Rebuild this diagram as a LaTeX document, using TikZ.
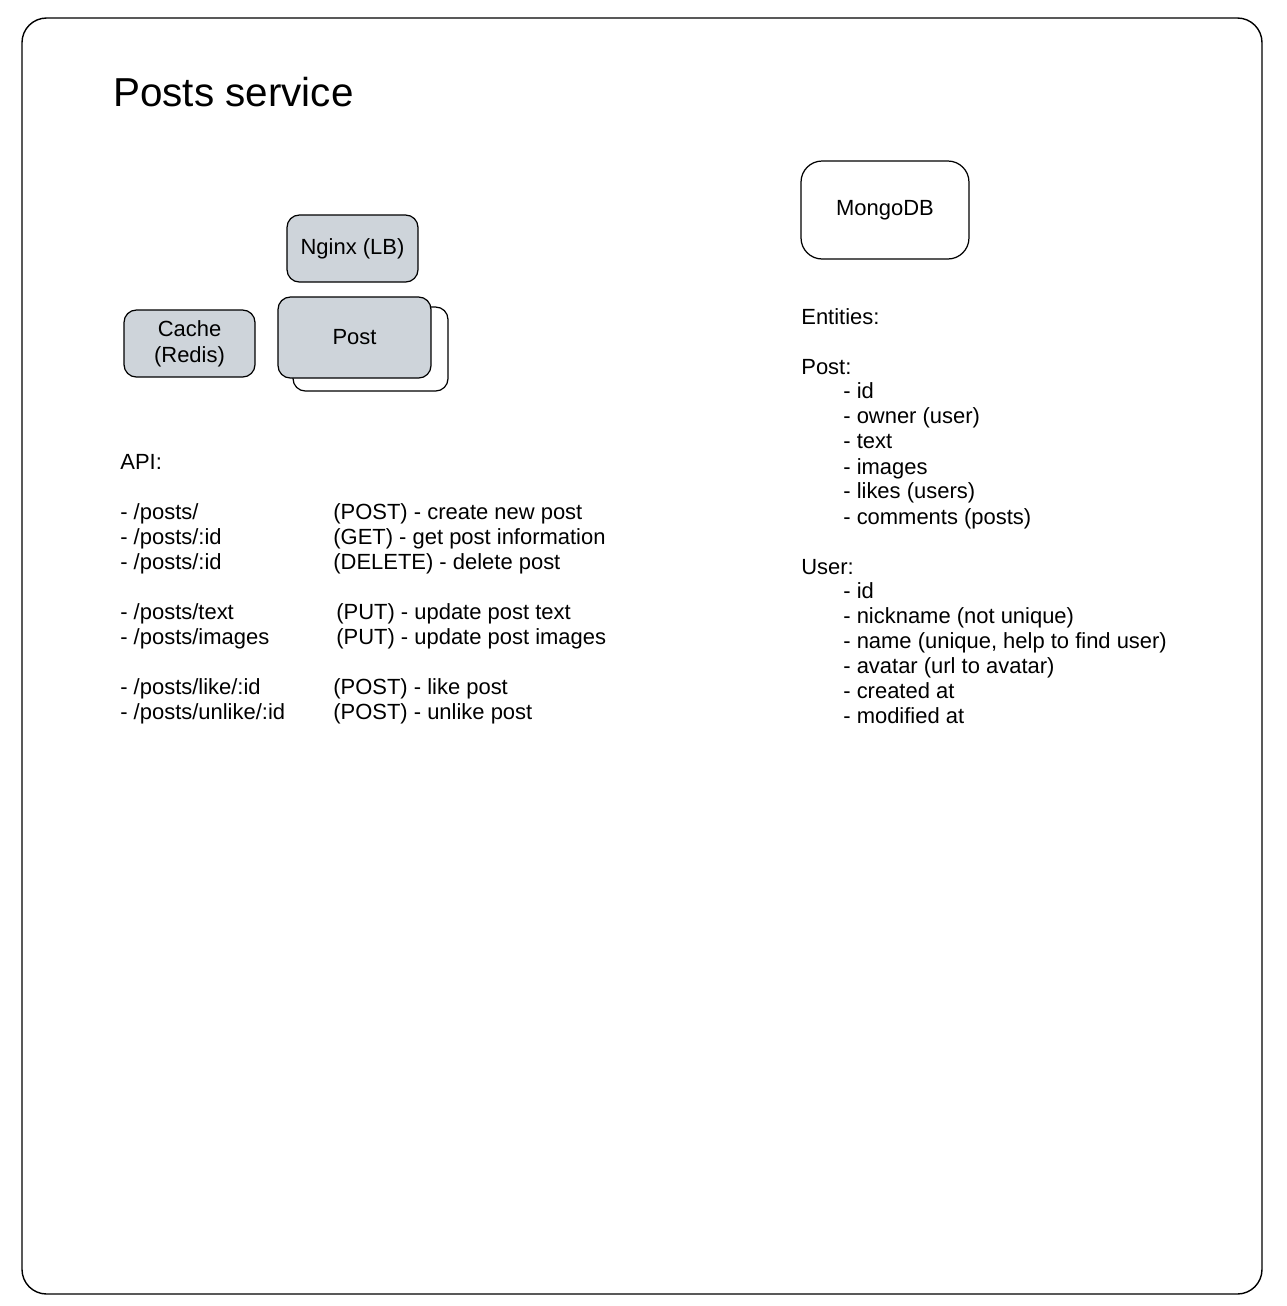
\documentclass[tikz,border=0pt]{standalone}
\usepackage{fontspec}
\setmainfont{Liberation Sans}
\usetikzlibrary{positioning}

\definecolor{boxgray}{HTML}{CED4DA}

\begin{document}
\begin{tikzpicture}[x=0.02cm, y=-0.02cm]
  \tikzstyle{every node} = [font=\fontsize{12.5}{15}\selectfont];
  \tikzstyle{svc} = [draw, line width=0.7pt, rounded corners=7pt, fill=boxgray, align=center];
  \tikzstyle{db} = [draw, line width=0.7pt, rounded corners=12pt, fill=white];
  \tikzstyle{txt} = [anchor=west, inner sep=0pt, text height=9pt, text depth=3pt, yshift=-1.2pt];

  \useasboundingbox (0,0) rectangle (1286,1306);
  \draw[line width=0.8pt, rounded corners=14pt] (22,18) rectangle (1262,1294);

  \node[anchor=west, inner sep=0pt, font=\fontsize{23}{28}\selectfont] (title) at (113,92) {Posts service};

  % services
  \node[svc, minimum width=2.62cm, minimum height=1.34cm] (nginx) at (352.5,248.5) {Nginx (LB)};
  \node[svc, minimum width=2.62cm, minimum height=1.34cm] (cache) at (189.5,343.5) {Cache\\(Redis)};
  \node[svc, fill=white, minimum width=3.1cm, minimum height=1.68cm] (postback) at (370.5,349) {};
  \node[svc, minimum width=3.06cm, minimum height=1.62cm] (post) at (354.5,337.5) {Post};
  \node[db, minimum width=3.36cm, minimum height=1.96cm] (mongo) at (885,210) {MongoDB};

  % api
  \node[txt] (api) at (120,462) {API:};
  \node[txt] (r1) at (120,512) {- /posts/};
  \node[txt] (r2) at (120,537) {- /posts/:id};
  \node[txt] (r3) at (120,562) {- /posts/:id};
  \node[txt] (r4) at (120,612) {- /posts/text};
  \node[txt] (r5) at (120,637) {- /posts/images};
  \node[txt] (r6) at (120,687) {- /posts/like/:id};
  \node[txt] (r7) at (120,712) {- /posts/unlike/:id};
  \node[txt] (m1) at (333,512) {(POST) - create new post};
  \node[txt] (m2) at (333,537) {(GET) - get post information};
  \node[txt] (m3) at (333,562) {(DELETE) - delete post};
  \node[txt] (m4) at (336,612) {(PUT) - update post text};
  \node[txt] (m5) at (336,637) {(PUT) - update post images};
  \node[txt] (m6) at (333,687) {(POST) - like post};
  \node[txt] (m7) at (333,712) {(POST) - unlike post};

  % entities
  \node[txt] (ent) at (801,317) {Entities:};
  \node[txt] (epost) at (801,367) {Post:};
  \node[txt] (p1) at (843,391) {- id};
  \node[txt] (p2) at (843,416) {- owner (user)};
  \node[txt] (p3) at (843,441) {- text};
  \node[txt] (p4) at (843,467) {- images};
  \node[txt] (p5) at (843,491) {- likes (users)};
  \node[txt] (p6) at (843,517) {- comments (posts)};
  \node[txt] (euser) at (801,567) {User:};
  \node[txt] (u1) at (843,591) {- id};
  \node[txt] (u2) at (843,616) {- nickname (not unique)};
  \node[txt] (u3) at (843,641) {- name (unique, help to find user)};
  \node[txt] (u4) at (843,666) {- avatar (url to avatar)};
  \node[txt] (u5) at (843,691) {- created at};
  \node[txt] (u6) at (843,716) {- modified at};
\end{tikzpicture}
\end{document}
